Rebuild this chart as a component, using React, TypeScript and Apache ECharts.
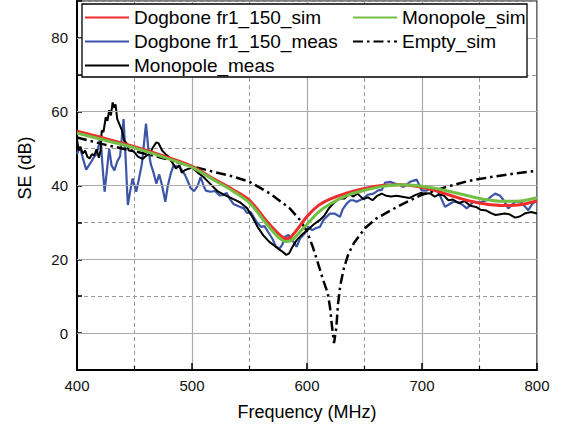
import React, { useEffect, useRef } from "react";
import * as echarts from "echarts";

// ---- axis ticks ----
const xTicks = [400, 500, 600, 700, 800];
const yMajor = [0, 20, 40, 60, 80];

// ---- Dogbone fr1_150_sim (red) ----
const redFreq = [400, 425, 450, 475, 500, 520, 535, 550, 565, 575, 580, 583, 586, 590, 600, 610, 620, 635, 650, 665, 680, 695, 710, 725, 740, 755, 770, 785, 800];
const redSE = [54.7, 52.7, 50.5, 48, 45.2, 41.6, 39, 36, 30.3, 27, 25.8, 25.6, 26.1, 27.5, 31.6, 34.6, 36.3, 38, 39.2, 40, 40.2, 39.8, 38.8, 37.3, 35.9, 35, 34.6, 34.8, 35.8];

// ---- Monopole_sim (green) ----
const greenFreq = [400, 425, 450, 475, 500, 520, 535, 550, 565, 575, 579, 582, 585, 588, 592, 600, 610, 620, 635, 650, 665, 680, 695, 710, 725, 740, 755, 770, 785, 800];
const greenSE = [54.2, 52.2, 50.2, 47.7, 44.9, 41.3, 38.6, 35.3, 29.5, 26, 25.1, 24.8, 24.9, 25.5, 26.8, 29.5, 32.8, 35, 37.3, 38.7, 39.7, 40.2, 40, 39.3, 38.3, 37.2, 36.2, 35.7, 35.8, 36.7];

// ---- Empty_sim (dash-dot) ----
const emptyFreq = [400, 425, 450, 475, 500, 520, 535, 550, 568, 585, 594, 600, 605, 610, 614, 618, 620, 621.5, 623.5, 625.5, 627, 629, 632, 636, 641, 650, 660, 680, 700, 720, 740, 760, 780, 800];
const emptySE = [53, 51, 49.3, 47.4, 45.2, 43.6, 42.5, 41, 37.8, 33.8, 30.6, 27.5, 23.4, 18.5, 14.4, 10.9, 7, 2.5, -2.7, 1.5, 8, 13, 17.5, 21.5, 24.5, 28.3, 31, 34.5, 37.5, 39.5, 41.2, 42.3, 43.2, 44];

// ---- Dogbone fr1_150_meas (blue) ----
const blueFreq = [400, 402.5, 405, 408, 410.5, 412.5, 415, 417, 419, 420.5, 422, 424, 426, 428, 430, 432.5, 435, 437.5, 440.5, 442.5, 444.2, 446, 448.3, 451.5, 454, 456.5, 460, 462, 464, 467, 469, 471.5, 474, 476.8, 479, 481.5, 484, 487, 490, 494, 496.5, 499, 502, 505, 507.5, 510, 512, 516, 520, 524, 527, 530, 533, 536, 541, 545, 548, 551, 556, 560, 563, 567, 570, 573, 576.4, 578.5, 581, 584, 586, 588, 591, 594, 598, 601, 604.5, 608, 611.3, 614, 617, 620, 624, 628.7, 631, 634.5, 637.8, 640.3, 643, 649, 653, 657.7, 662, 665, 668, 672.2, 676.5, 680, 683.8, 687, 689.6, 695.4, 699.7, 704, 707, 712, 716, 720, 724, 727.2, 732, 735, 738.9, 744.6, 750, 756.3, 760, 763.5, 768, 771, 775, 780.9, 786, 789, 792.4, 796, 800];
const blueSE = [48.5, 50.5, 47.5, 44.3, 45.5, 46.5, 47.8, 48.5, 51, 53.5, 46, 38.3, 44, 50, 45.5, 44.1, 46.5, 48, 58, 46, 34.7, 38, 41.9, 38.3, 42, 46, 56.8, 50, 46, 43, 40.5, 43, 40, 35.6, 40, 43.2, 45.5, 45.2, 44.8, 42.8, 41, 39.2, 38.5, 40, 42.3, 40, 38.6, 38.3, 38.5, 37.3, 37.4, 38, 36.3, 35, 34.3, 33.8, 32.5, 32.8, 30.2, 28.8, 29, 27, 25.5, 23.4, 23, 24, 26.1, 26.6, 25.5, 24.8, 23.4, 25.7, 27, 28.8, 27.9, 28.5, 28.8, 30.5, 31.5, 32.4, 32.4, 31.5, 33.5, 35.1, 36, 36, 35.6, 36.5, 37.5, 37.8, 38.7, 38.8, 40.8, 41, 40.5, 40.3, 39.6, 40.4, 41, 41.6, 38.7, 38.6, 39.2, 39.3, 37, 34.2, 35, 35.6, 35.4, 34.8, 33.8, 35.6, 35.4, 36, 37, 37.8, 37.2, 36, 33.8, 35.6, 35.6, 34.5, 33.3, 35, 36];

// ---- Monopole_meas (black) ----
const blackFreq = [400, 401.5, 403, 405, 407, 409, 411, 413, 415, 417, 419, 420.5, 421.5, 423, 425, 426.5, 428, 429.5, 431, 432.5, 433.5, 435, 437, 439, 441, 443, 445, 449, 453, 457, 460, 463, 466, 469, 471, 474, 477, 480, 483, 486, 489, 491, 494, 497, 500, 505, 510, 515, 522, 529, 536, 542, 548, 553, 557, 562, 567, 572, 576, 579, 582, 584.5, 587, 591, 596, 600, 606, 611, 615, 619, 623, 628, 633, 637, 640, 644, 649, 653, 657, 661, 665, 669, 673, 678, 684, 689, 694, 699, 703, 707, 711, 715, 719, 723, 727, 732, 737, 742, 747, 751, 756, 760, 764, 768, 772, 776, 781, 785, 790, 795, 800];
const blackSE = [52.5, 49.5, 50.5, 48.6, 49.5, 47.8, 47.3, 48.5, 48.2, 49.8, 47.5, 49.5, 54.9, 54.5, 58.5, 57.5, 60.4, 59, 62.5, 61, 62, 58, 56.5, 55, 52.2, 51.5, 49.5, 49.3, 47.8, 47.2, 48, 48.5, 50.3, 51.7, 51.4, 49.5, 48.5, 47.7, 46.2, 44.6, 45.5, 43.5, 44.2, 44.5, 44.8, 43.5, 42.3, 40.7, 38.5, 37.3, 36.3, 35.4, 33.8, 31.2, 28.8, 26.5, 24.8, 23.6, 22.6, 22, 21.2, 21.6, 23.2, 25.2, 26.8, 27.8, 29.5, 30.6, 31.8, 33.8, 35.2, 36.4, 36.5, 37.8, 37, 37.8, 36.3, 36.8, 36, 37.2, 37.8, 37.2, 37, 37.2, 36.9, 36.6, 37.4, 38, 37.8, 37.9, 37, 37.6, 37.3, 36, 36.2, 35.2, 35.8, 34.5, 34.2, 33.4, 33.2, 32.5, 32, 32.2, 32.4, 32.2, 31.3, 31.6, 32.5, 32.8, 32.4];

const NAMES = {
  red: "Dogbone fr1_150_sim",
  blue: "Dogbone fr1_150_meas",
  black: "Monopole_meas",
  green: "Monopole_sim",
  empty: "Empty_sim",
};

const FONT = "'Liberation Sans', Arial, sans-serif";

function zip(xs: number[], ys: number[]) {
  return xs.map((x, i) => [x, ys[i]]);
}

export default function App() {
  const ref = useRef<HTMLDivElement>(null);
  useEffect(() => {
    if (!ref.current) return;
    const chart = echarts.init(ref.current, null, { renderer: "svg" });
    const legendText = { color: "#000", fontSize: 19, fontFamily: FONT };
    const legendCommon = {
      orient: "vertical",
      top: 8,
      padding: 0,
      itemGap: 5,
      itemWidth: 44,
      itemHeight: 14,
      textStyle: legendText,
      selectedMode: false,
      itemStyle: { opacity: 0, borderWidth: 0 },
      z: 20,
    };
    chart.setOption({
      animation: false,
      backgroundColor: "#fff",
      textStyle: { fontFamily: FONT },
      grid: {
        left: 77,
        right: 32,
        top: 1,
        bottom: 62,
        show: true,
        borderColor: "#000",
        borderWidth: 1.2,
        backgroundColor: "transparent",
      },
      xAxis: {
        type: "value",
        min: xTicks[0],
        max: xTicks[xTicks.length - 1],
        interval: 100,
        name: "Frequency (MHz)",
        nameLocation: "middle",
        nameGap: 33,
        nameTextStyle: { color: "#000", fontSize: 18, fontFamily: FONT },
        axisLine: { show: true, onZero: false, lineStyle: { color: "#000", width: 2 } },
        axisTick: { show: true, inside: true, length: 7, lineStyle: { color: "#000", width: 1.5 } },
        minorTick: { show: true, splitNumber: 2, length: 4, lineStyle: { color: "#000", width: 1.2 } },
        axisLabel: { color: "#111", fontSize: 15, margin: 8, fontFamily: FONT },
        splitLine: { show: true, lineStyle: { color: "#aaa", width: 1.2, type: "solid" } },
        minorSplitLine: { show: true, lineStyle: { color: "#9a9a9a", width: 1, type: [4, 3] } },
      },
      yAxis: {
        type: "value",
        min: -10,
        max: 90,
        interval: 10,
        axisLine: { show: true, onZero: false, lineStyle: { color: "#000", width: 2 } },
        axisTick: { show: true, inside: true, length: 5, lineStyle: { color: "#000", width: 1.5 } },
        axisLabel: {
          color: "#111",
          fontSize: 15,
          margin: 9,
          fontFamily: FONT,
          formatter: (v: number) => (yMajor.indexOf(v) >= 0 ? String(v) : ""),
        },
        splitLine: { show: true, lineStyle: { color: "#9a9a9a", width: 1, type: [4, 3] } },
      },
      legend: [
        { ...legendCommon, data: [NAMES.red, NAMES.blue, NAMES.black], left: 84 },
        { ...legendCommon, data: [NAMES.green, NAMES.empty], left: 352 },
      ],
      graphic: [
        {
          type: "rect",
          z: 15,
          shape: { x: 82, y: 4, width: 445, height: 73 },
          style: { fill: "#fff", stroke: "#000", lineWidth: 1.3 },
        },
        {
          type: "text",
          z: 15,
          x: 25,
          y: 168,
          rotation: Math.PI / 2,
          style: {
            text: "SE (dB)",
            fill: "#000",
            fontSize: 18,
            fontFamily: FONT,
            textAlign: "center",
            textVerticalAlign: "middle",
          },
        },
      ],
      series: [
        {
          name: "_grid",
          type: "line",
          data: [],
          z: 1,
          silent: true,
          markLine: {
            silent: true,
            symbol: ["none", "none"],
            label: { show: false },
            lineStyle: { color: "#aaa", width: 1.2, type: "solid" },
            data: yMajor.map((v) => ({ yAxis: v })),
          },
        },
        {
          name: NAMES.blue,
          type: "line",
          data: zip(blueFreq, blueSE),
          symbol: "none",
          z: 3,
          lineStyle: { color: "#3c55a8", width: 2.2 },
          itemStyle: { color: "#3c55a8" },
        },
        {
          name: NAMES.black,
          type: "line",
          data: zip(blackFreq, blackSE),
          symbol: "none",
          z: 4,
          lineStyle: { color: "#000", width: 2 },
          itemStyle: { color: "#000" },
        },
        {
          name: NAMES.empty,
          type: "line",
          data: zip(emptyFreq, emptySE),
          symbol: "none",
          z: 5,
          lineStyle: { color: "#000", width: 2.5, type: [10, 4, 2.5, 4] },
          itemStyle: { color: "#000" },
        },
        {
          name: NAMES.red,
          type: "line",
          data: zip(redFreq, redSE),
          symbol: "none",
          smooth: 0.3,
          z: 6,
          lineStyle: { color: "#ee2c2c", width: 3 },
          itemStyle: { color: "#ee2c2c" },
        },
        {
          name: NAMES.green,
          type: "line",
          data: zip(greenFreq, greenSE),
          symbol: "none",
          smooth: 0.3,
          z: 7,
          lineStyle: { color: "#72bf44", width: 3 },
          itemStyle: { color: "#72bf44" },
        },
      ],
    });
    return () => chart.dispose();
  }, []);
  return (
    <div
      ref={ref}
      style={{ position: "fixed", left: 0, top: 0, width: 569, height: 432, background: "#fff" }}
    />
  );
}
